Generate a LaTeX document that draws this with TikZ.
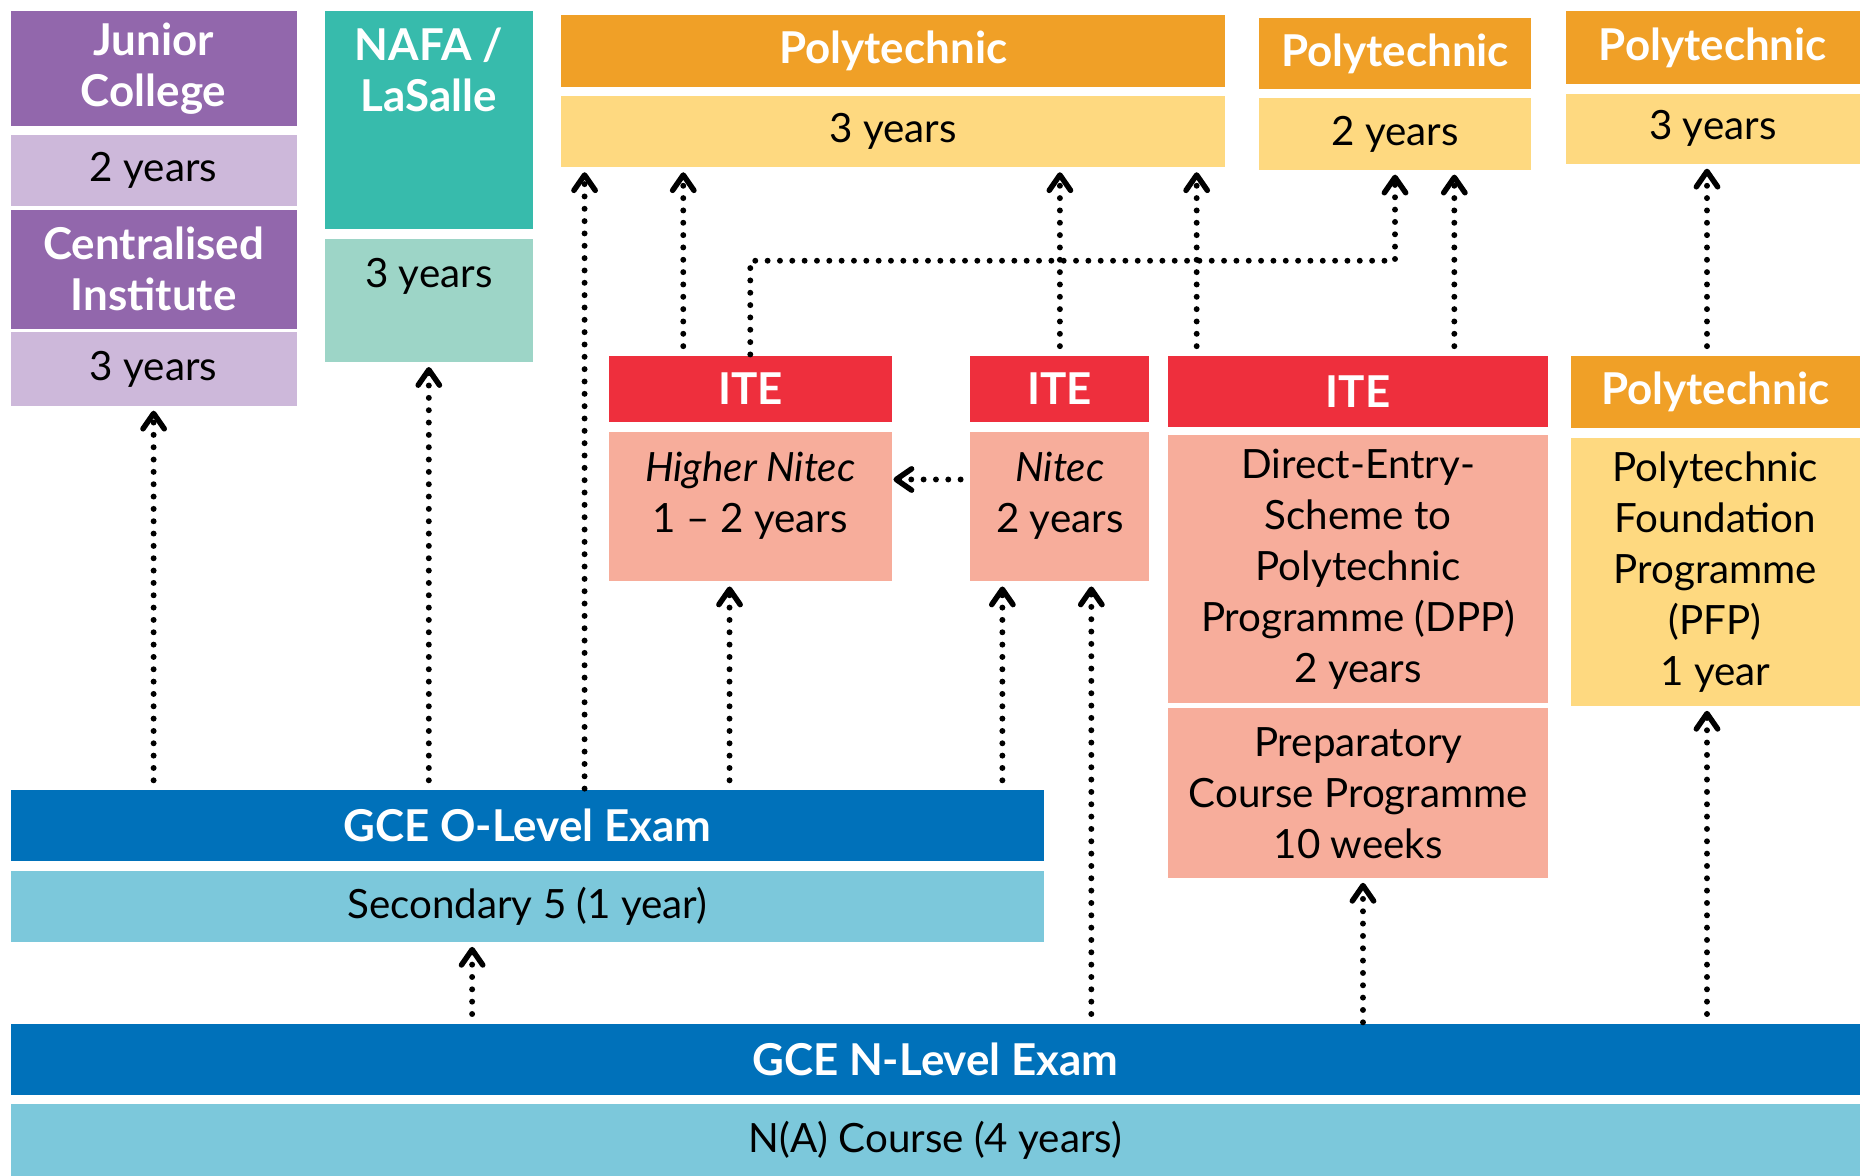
\documentclass[tikz,border=0pt]{standalone}
\usepackage{fontspec}
\setmainfont{Lato}
\usetikzlibrary{arrows.meta}
\definecolor{purplehead}{HTML}{9267AC}
\definecolor{purplebody}{HTML}{CDB8DA}
\definecolor{tealhead}{HTML}{37BBAC}
\definecolor{tealbody}{HTML}{9DD5C7}
\definecolor{orangehead}{HTML}{F0A027}
\definecolor{orangebody}{HTML}{FED980}
\definecolor{redhead}{HTML}{EE2F3D}
\definecolor{redbody}{HTML}{F7AD9B}
\definecolor{bluehead}{HTML}{0071BA}
\definecolor{bluebody}{HTML}{7CC8DB}
\begin{document}
\begin{tikzpicture}[x=1pt,y=-1pt]
        \tikzstyle{head}=[rectangle,inner sep=0pt,text=white,align=center,font=\fontsize{37}{43}\selectfont\bfseries]
        \tikzstyle{body}=[rectangle,inner sep=0pt,text=black,align=center,font=\fontsize{34}{43}\selectfont]
        \tikzstyle{toptext}=[anchor=north,text height=41pt]
        \tikzstyle{flow}=[draw=black,line width=5pt,dash pattern=on 0pt off 10.4pt,line cap=round,shorten <=8pt,shorten >=4pt,-{Straight Barb[length=13pt,width=18pt,line width=4.6pt,round]}]
        \useasboundingbox (0,0) rectangle (1568,991);
       \begin{scope}

         \node [head,fill=purplehead,minimum width=241pt,minimum height=97pt] (jc) at (129.5,57.5) {Junior\\College};
         \node [body,fill=purplebody,minimum width=241pt,minimum height=60pt] (jcyrs) at (129.5,144) {2 years};
         \node [head,fill=purplehead,minimum width=241pt,minimum height=100pt] (ci) at (129.5,227) {Centralised\\Institute};
         \node [body,fill=purplebody,minimum width=241pt,minimum height=62pt] (ciyrs) at (129.5,311) {3 years};

         \node [head,toptext,fill=tealhead,minimum width=175pt,text height=85pt,text depth=99pt] (nafa) at (361.5,9) {NAFA /\\LaSalle};
         \node [body,toptext,fill=tealbody,minimum width=175pt,text depth=63pt] (nafayrs) at (361.5,201) {3 years};

         \node [head,fill=orangehead,minimum width=560pt,minimum height=60pt] (polya) at (753,43) {Polytechnic};
         \node [body,fill=orangebody,minimum width=560pt,minimum height=60pt] (polyayrs) at (753,111) {3 years};
         \node [head,fill=orangehead,minimum width=230pt,minimum height=60pt] (polyb) at (1176,45) {Polytechnic};
         \node [body,fill=orangebody,minimum width=230pt,minimum height=60pt] (polybyrs) at (1176,113) {2 years};
         \node [head,fill=orangehead,minimum width=248pt,minimum height=62pt] (polyc) at (1444,40) {Polytechnic};
         \node [body,fill=orangebody,minimum width=248pt,minimum height=59pt] (polycyrs) at (1444,108.5) {3 years};

         \node [head,fill=redhead,minimum width=239pt,minimum height=56pt] (itea) at (632.5,328) {ITE};
         \node [body,toptext,fill=redbody,minimum width=239pt,text height=85pt,text depth=41pt] (hnitec) at (632.5,364) {\itshape Higher Nitec\\1 -- 2 years};
         \node [head,fill=redhead,minimum width=151pt,minimum height=56pt] (iteb) at (893.5,328) {ITE};
         \node [body,toptext,fill=redbody,minimum width=151pt,text height=85pt,text depth=41pt] (nitec) at (893.5,364) {\itshape Nitec\\2 years};
         \node [head,fill=redhead,minimum width=320pt,minimum height=60pt] (itec) at (1145,330) {ITE};
         \node [body,fill=redbody,minimum width=320pt,minimum height=226pt] (dpp) at (1145,480) {Direct-Entry-\\Scheme to\\Polytechnic\\Programme (DPP)\\2 years};
         \node [body,fill=redbody,minimum width=320pt,minimum height=143pt] (prep) at (1145,668.5) {Preparatory\\Course Programme\\10 weeks};

         \node [head,fill=orangehead,minimum width=244pt,minimum height=61pt] (polyd) at (1446,330.5) {Polytechnic};
         \node [body,fill=orangebody,minimum width=244pt,minimum height=226pt] (pfp) at (1446,482) {Polytechnic\\Foundation\\Programme\\(PFP)\\1 year};

         \node [head,fill=bluehead,minimum width=871pt,minimum height=60pt] (olvl) at (444.5,696) {GCE O-Level Exam};
         \node [body,fill=bluebody,minimum width=871pt,minimum height=60pt] (sec) at (444.5,764) {Secondary 5 (1 year)};
         \node [head,fill=bluehead,minimum width=1559pt,minimum height=60pt] (nlvl) at (788.5,893) {GCE N-Level Exam};
         \node [body,fill=bluebody,minimum width=1559pt,minimum height=60pt] (na) at (788.5,961) {N(A) Course (4 years)};

         \coordinate (toPolyOl) at ([xshift=20pt]polyayrs.south west);
         \coordinate (toPolyIa) at ([xshift=-56.5pt]polyayrs.south -| itea.north);
         \coordinate (toPolyIc) at ([xshift=24pt]polyayrs.south -| itec.north west);
         \coordinate (toPolyB) at ([xshift=50pt]polybyrs.south);
         \coordinate (toPolyC) at ([xshift=-5pt]polycyrs.south);
         \coordinate (toHnOl) at ([xshift=-17.5pt]hnitec.south);
         \coordinate (toNiOl) at ([xshift=-48.5pt]nitec.south);
         \coordinate (toNiNl) at ([xshift=26.5pt]nitec.south);
         \coordinate (toSec) at ([xshift=-46.5pt]sec.south);
         \coordinate (toPrep) at ([xshift=4pt]prep.south);
         \coordinate (toPfp) at ([xshift=-7pt]pfp.south);

 		\path[flow] (olvl.north -| ciyrs.south) -- (ciyrs.south);
 		\path[flow] (olvl.north -| nafayrs.south) -- (nafayrs.south);
 		\path[flow,shorten <=1pt] (olvl.north -| toPolyOl) -- (toPolyOl);
 		\path[flow] (olvl.north -| toHnOl) -- (toHnOl);
 		\path[flow] (olvl.north -| toNiOl) -- (toNiOl);
 		\path[flow] (nlvl.north -| toNiNl) -- (toNiNl);
 		\path[flow] (nlvl.north -| toSec) -- (toSec);
 		\path[flow,shorten <=1pt] (nlvl.north -| toPrep) -- (toPrep);
 		\path[flow] (nlvl.north -| toPfp) -- (toPfp);

 		\path[flow,shorten >=1pt] ([yshift=23pt]nitec.west) -- ([yshift=23pt]hnitec.east);
 		\path[flow] (itea.north -| toPolyIa) -- (toPolyIa);
 		\path[flow,shorten <=1pt] (itea.north) -- ++(0,-80) -| (polybyrs.south);
 		\path[flow] (iteb.north) -- (polyayrs.south -| iteb.north);
 		\path[flow] (itec.north -| toPolyIc) -- (toPolyIc);
 		\path[flow] (itec.north -| toPolyB) -- (toPolyB);
 		\path[flow] (polyd.north -| toPolyC) -- (toPolyC);

        \end{scope}
\end{tikzpicture}
\end{document}
